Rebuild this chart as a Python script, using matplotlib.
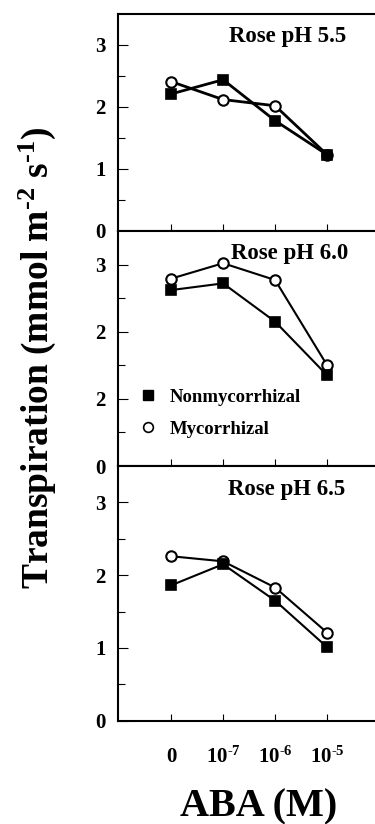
import matplotlib
matplotlib.use('Agg')
import matplotlib.pyplot as plt
from matplotlib.lines import Line2D

plt.rcParams['font.family'] = ['Liberation Serif', 'DejaVu Serif']
plt.rcParams['font.weight'] = 'bold'
plt.rcParams['mathtext.fontset'] = 'custom'
plt.rcParams['mathtext.rm'] = 'Liberation Serif:bold'
plt.rcParams['mathtext.bf'] = 'Liberation Serif:bold'
plt.rcParams['mathtext.it'] = 'Liberation Serif:bold'

# ABA concentrations (categorical)
aba_labels = ['0', r'10$^{\text{-}7}$', r'10$^{\text{-}6}$', r'10$^{\text{-}5}$']
panel_titles = ['Rose pH 5.5', 'Rose pH 6.0', 'Rose pH 6.5']

# transpiration, mmol m-2 s-1
nonmyc_55 = [2.21, 2.44, 1.78, 1.23]
myc_55 = [2.41, 2.12, 2.02, 1.23]
nonmyc_60 = [2.62, 2.72, 2.15, 1.35]
myc_60 = [2.79, 3.02, 2.77, 1.50]
nonmyc_65 = [1.86, 2.15, 1.65, 1.01]
myc_65 = [2.26, 2.19, 1.83, 1.21]

ytick_vals = [0, 1, 2, 3]
ytick_labels = [['0', '1', '2', '3'],
                ['0', '2', '2', '3'],   # as printed in the original
                ['0', '1', '2', '3']]

nonmyc = [nonmyc_55, nonmyc_60, nonmyc_65]
myc = [myc_55, myc_60, myc_65]

W, H = 375, 824
fig = plt.figure(figsize=(W / 100, H / 100), dpi=100)

left = 118 / W
# panel edges in pixels from the top: (top, bottom)
panel_px = [(14, 231), (231, 466), (466, 720.7)]
title_pos = [(2.24, 3.14), (2.27, 3.16), (2.22, 3.18)]
lws = [2.0, 1.5, 1.5]

x = list(range(len(aba_labels)))

for i, (top, bot) in enumerate(panel_px):
    ax = fig.add_axes([left, 1 - bot / H, 1 - left, (bot - top) / H])
    ax.plot(x, myc[i], color='black', lw=lws[i], marker='o', ms=7.5,
            mfc='white', mec='black', mew=1.5, zorder=3)
    ax.plot(x, nonmyc[i], color='black', lw=lws[i], marker='s', ms=7.5,
            mfc='black', mec='black', mew=1.2, zorder=4)

    ax.set_xlim(-1.02, 3.92)
    ax.set_ylim(0, 3.5)
    ax.set_yticks(ytick_vals)
    ax.set_yticklabels(ytick_labels[i])
    ax.set_yticks([0.5, 1.5, 2.5], minor=True)
    ax.set_xticks(x)
    if i == 2:
        ax.set_xticklabels(aba_labels)
    else:
        ax.set_xticklabels([])

    ax.tick_params(axis='y', which='major', direction='in', length=7, width=0.8,
                   labelsize=15, pad=9)
    ax.tick_params(axis='y', which='minor', direction='in', length=5, width=0.8)
    ax.tick_params(axis='x', direction='in', length=5, width=0.8,
                   labelsize=15, pad=19)
    for s in ['left', 'top', 'bottom']:
        ax.spines[s].set_linewidth(1.5)
    ax.spines['right'].set_visible(False)

    tx, ty = title_pos[i]
    ax.text(tx, ty, panel_titles[i], ha='center', va='center', fontsize=16.5)

    if i == 1:
        handles = [Line2D([], [], ls='none', marker='s', ms=7, mfc='black', mec='black'),
                   Line2D([], [], ls='none', marker='o', ms=7, mfc='white', mec='black', mew=1.2)]
        ax.legend(handles, ['Nonmycorrhizal', 'Mycorrhizal'], loc='center left',
                  bbox_to_anchor=(0.053, 0.225), frameon=False, fontsize=13.5,
                  handlelength=0.8, handletextpad=0.75, labelspacing=0.8,
                  borderpad=0)

fig.text(37 / W, 1 - 358 / H,
         r'Transpiration (mmol m$^{\text{-}2}$ s$^{\text{-}1}$)',
         rotation=90, ha='center', va='center', fontsize=27)
fig.text(259 / W, 1 - 807 / H, 'ABA (M)', ha='center', va='center', fontsize=29)

fig.savefig('out.png', dpi=100)
